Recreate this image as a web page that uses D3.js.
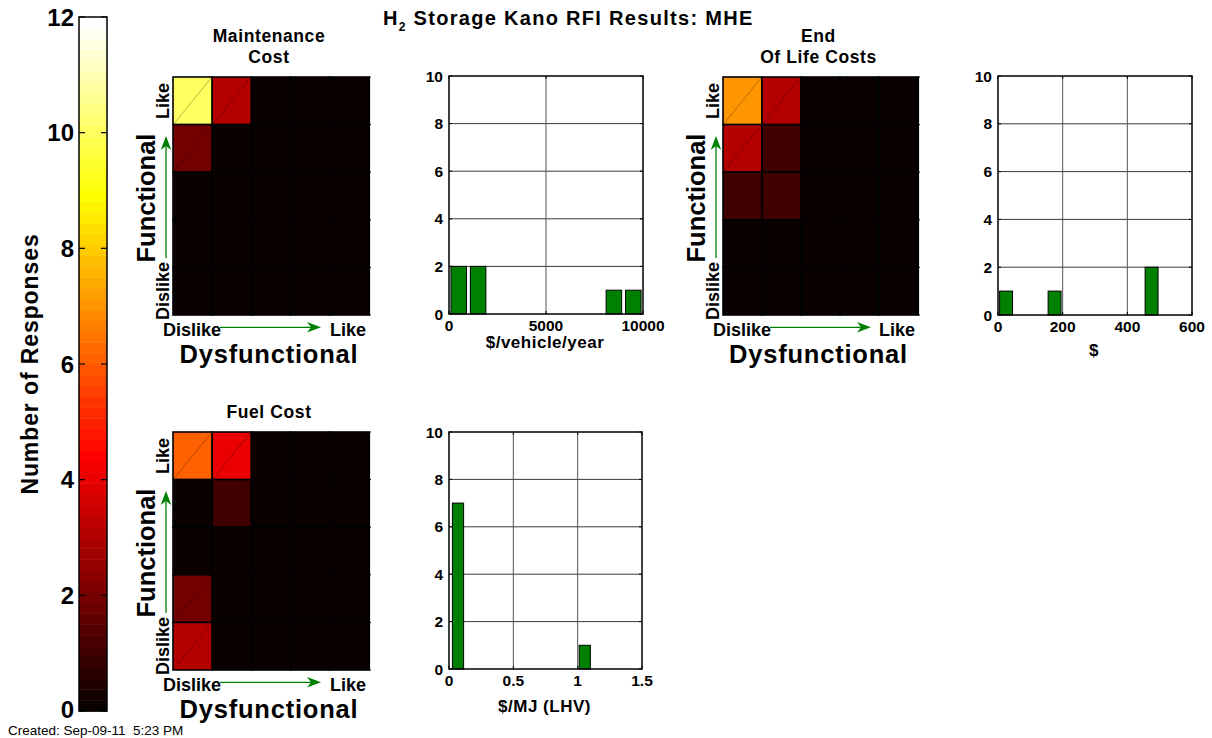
<!DOCTYPE html>
<html><head><meta charset="utf-8">
<script src="https://cdn.jsdelivr.net/npm/d3@7"></script>
<style>
body{margin:0;background:#fff;}
svg text{font-family:"Liberation Sans",Arial,Helvetica,sans-serif;font-weight:bold;fill:#000;}
</style></head><body>
<svg id="c" width="1212" height="738"></svg>
<script>
// ---------------- data ----------------
const colorbarTicks = [0, 2, 4, 6, 8, 10, 12];
const colorMax = 12;

// Kano grids: rows top (Functional Like) -> bottom (Dislike); cols left (Dysfunctional Dislike) -> right (Like)
const maintenanceGrid = [
  [10, 3, 0, 0, 0],
  [2, 0, 0, 0, 0],
  [0, 0, 0, 0, 0],
  [0, 0, 0, 0, 0],
  [0, 0, 0, 0, 0]
];
const endOfLifeGrid = [
  [7, 3, 0, 0, 0],
  [3, 1, 0, 0, 0],
  [1, 1, 0, 0, 0],
  [0, 0, 0, 0, 0],
  [0, 0, 0, 0, 0]
];
const fuelGrid = [
  [6, 4, 0, 0, 0],
  [0, 1, 0, 0, 0],
  [0, 0, 0, 0, 0],
  [2, 0, 0, 0, 0],
  [3, 0, 0, 0, 0]
];

// Histograms
const maintBinCenters = [500, 1500, 2500, 3500, 4500, 5500, 6500, 7500, 8500, 9500];
const maintCounts     = [2, 2, 0, 0, 0, 0, 0, 0, 1, 1];
const maintXTicks = [0, 5000, 10000];

const eolBinCenters = [25, 75, 125, 175, 225, 275, 325, 375, 425, 475];
const eolCounts     = [1, 0, 0, 1, 0, 0, 0, 0, 0, 2];
const eolXTicks = [0, 200, 400, 600];

const fuelBinCenters = [0.070, 0.179, 0.289, 0.398, 0.508, 0.617, 0.727, 0.836, 0.946, 1.055];
const fuelCounts     = [7, 0, 0, 0, 0, 0, 0, 0, 0, 1];
const fuelXTicks = [0, 0.5, 1, 1.5];

const histYTicks = [0, 2, 4, 6, 8, 10];

// ---------------- helpers ----------------
const svg = d3.select("#c");

// MATLAB hot(64)
function hotColor(idx) { // idx 0..63
  const m = 64, n = 24;
  const k = idx + 1;
  const r = Math.min(1, k / n);
  const g = k <= n ? 0 : Math.min(1, (k - n) / n);
  const b = k <= 2 * n ? 0 : (k - 2 * n) / (m - 2 * n);
  return d3.rgb(Math.round(r * 255), Math.round(g * 255), Math.round(b * 255)).toString();
}
function valueColor(v) {
  let idx = Math.floor(v / colorMax * 64);
  idx = Math.max(0, Math.min(63, idx));
  return hotColor(idx);
}

// ---------------- colorbar ----------------
const cb = {x0: 79, x1: 107, y0: 17, y1: 711};
const cbY = d3.scaleLinear().domain([0, colorMax]).range([cb.y1, cb.y0]);
const bands = d3.range(64);
svg.append("g").selectAll("rect").data(bands).join("rect")
  .attr("x", cb.x0).attr("width", cb.x1 - cb.x0)
  .attr("y", d => cbY((d + 1) * colorMax / 64))
  .attr("height", d => cbY(d * colorMax / 64) - cbY((d + 1) * colorMax / 64) + 0.5)
  .attr("fill", d => hotColor(d));
svg.append("rect").attr("x", cb.x0).attr("y", cb.y0).attr("width", cb.x1 - cb.x0).attr("height", cb.y1 - cb.y0)
  .attr("fill", "none").attr("stroke", "#000").attr("stroke-width", 1.5);
const cbTickG = svg.append("g");
colorbarTicks.forEach(t => {
  const y = cbY(t);
  cbTickG.append("line").attr("x1", cb.x0).attr("x2", cb.x0 + 6).attr("y1", y).attr("y2", y).attr("stroke", "#000").attr("stroke-width", 1.2);
  cbTickG.append("line").attr("x1", cb.x1 - 6).attr("x2", cb.x1).attr("y1", y).attr("y2", y).attr("stroke", "#000").attr("stroke-width", 1.2);
  cbTickG.append("text").attr("x", 74).attr("y", t === 0 ? y + 7 : y + 8.5).attr("text-anchor", "end")
    .style("font-size", "24px").text(t);
});
svg.append("text").attr("transform", "translate(38,364) rotate(-90)").attr("text-anchor", "middle")
  .style("font-size", "23px").style("letter-spacing", "0.9px").text("Number of Responses");

// ---------------- title ----------------
const title = svg.append("text").attr("x", 383).attr("y", 25).style("font-size", "20px").style("letter-spacing", "1.3px");
title.append("tspan").text("H");
title.append("tspan").attr("dy", 6).style("font-size", "12px").text("2");
title.append("tspan").attr("dy", -6).text(" Storage Kano RFI Results: MHE");

svg.append("text").attr("x", 8).attr("y", 734.5).style("font-weight", "normal").style("font-size", "13.5px")
  .attr("xml:space", "preserve").text("Created: Sep-09-11  5:23 PM");

// ---------------- Kano heatmap ----------------
function drawKano(box, grid, titleLines, titleBaseline) {
  const g = svg.append("g");
  const cols = d3.range(5), rows = d3.range(5);
  const xs = d3.scaleBand().domain(cols).range([box.x0, box.x1]);
  const ys = d3.scaleBand().domain(rows).range([box.y0, box.y1]);
  const cells = [];
  rows.forEach(r => cols.forEach(c => cells.push({r, c, v: grid[r][c]})));
  g.selectAll("rect.cell").data(cells).join("rect")
    .attr("x", d => xs(d.c)).attr("y", d => ys(d.r))
    .attr("width", xs.bandwidth()).attr("height", ys.bandwidth())
    .attr("fill", d => valueColor(d.v)).attr("stroke", "#000").attr("stroke-width", 1.6);
  g.selectAll("line.diag").data(cells).join("line")
    .attr("x1", d => xs(d.c) + 1).attr("y1", d => ys(d.r) + ys.bandwidth() - 1)
    .attr("x2", d => xs(d.c) + xs.bandwidth() - 1).attr("y2", d => ys(d.r) + 1)
    .attr("stroke", "#000").attr("stroke-opacity", d => d.v > 0 ? 0.35 : 0.08).attr("stroke-width", 0.8);
  // right border ticks
  g.append("line").attr("x1", box.x1 + 0.5).attr("x2", box.x1 + 0.5).attr("y1", box.y0).attr("y2", box.y1)
    .attr("stroke", "#000").attr("stroke-width", 1.2);
  rows.concat([5]).forEach(r => {
    const y = r < 5 ? ys(r) : box.y1;
    g.append("line").attr("x1", box.x1).attr("x2", box.x1 + 2).attr("y1", y).attr("y2", y).attr("stroke", "#000");
  });
  // titles
  titleLines.forEach((t, i) => {
    g.append("text").attr("x", (box.x0 + box.x1) / 2 - 2).attr("y", titleBaseline + i * 21.6)
      .attr("text-anchor", "middle").style("font-size", "17.5px").style("letter-spacing", "0.6px").text(t);
  });
  // axis words
  const bx = box.x0, by = box.y1;
  g.append("text").attr("x", bx - 10).attr("y", by + 20.5).style("font-size", "18px").text("Dislike");
  g.append("text").attr("x", box.x1 - 3).attr("y", by + 20.5).attr("text-anchor", "end").style("font-size", "18px").text("Like");
  g.append("text").attr("transform", `translate(${bx - 4},${box.y0 + 24}) rotate(-90)`).attr("text-anchor", "middle")
    .style("font-size", "18px").text("Like");
  g.append("text").attr("transform", `translate(${bx - 4},${box.y1 + 5}) rotate(-90)`).attr("text-anchor", "start")
    .style("font-size", "18px").text("Dislike");
  g.append("text").attr("transform", `translate(${bx - 18},${box.y0 + 121}) rotate(-90)`).attr("text-anchor", "middle")
    .style("font-size", "25.5px").text("Functional");
  g.append("text").attr("x", (box.x0 + box.x1) / 2 - 2).attr("y", by + 48)
    .attr("text-anchor", "middle").style("font-size", "25.5px").style("letter-spacing", "0.8px").text("Dysfunctional");
  // green arrows
  const green = "#008000";
  g.append("line").attr("x1", bx + 47).attr("x2", bx + 140).attr("y1", by + 12.3).attr("y2", by + 12.3)
    .attr("stroke", green).attr("stroke-width", 1.3);
  g.append("path").attr("d", `M${bx + 148},${by + 12.3} L${bx + 134},${by + 7} L${bx + 138},${by + 12.3} L${bx + 134},${by + 17.6} Z`)
    .attr("fill", green);
  g.append("line").attr("x1", bx - 7).attr("x2", bx - 7).attr("y1", box.y0 + 181).attr("y2", box.y0 + 68)
    .attr("stroke", green).attr("stroke-width", 1.3);
  g.append("path").attr("d", `M${bx - 7},${box.y0 + 59} L${bx - 12.3},${box.y0 + 73} L${bx - 7},${box.y0 + 69} L${bx - 1.7},${box.y0 + 73} Z`)
    .attr("fill", green);
}

// ---------------- histogram ----------------
function drawHist(box, centers, counts, xTicks, xLabel, xLabelBaseline, xFmt) {
  const g = svg.append("g");
  const x = d3.scaleLinear().domain([xTicks[0], xTicks[xTicks.length - 1]]).range([box.x0, box.x1]);
  const y = d3.scaleLinear().domain([0, 10]).range([box.y1, box.y0]);
  g.append("rect").attr("x", box.x0).attr("y", box.y0).attr("width", box.x1 - box.x0).attr("height", box.y1 - box.y0).attr("fill", "#fff");
  // grid
  g.selectAll("line.hg").data(histYTicks.slice(1, -1)).join("line")
    .attr("x1", box.x0).attr("x2", box.x1).attr("y1", d => y(d)).attr("y2", d => y(d))
    .attr("stroke", "#3a3a3a").attr("stroke-width", 1);
  g.selectAll("line.vg").data(xTicks.slice(1, -1)).join("line")
    .attr("x1", d => x(d)).attr("x2", d => x(d)).attr("y1", box.y0).attr("y2", box.y1)
    .attr("stroke", "#555").attr("stroke-width", 1);
  // bars
  const bw = (centers[1] - centers[0]) * 0.8;
  const bars = centers.map((c, i) => ({c, n: counts[i]})).filter(d => d.n > 0);
  g.selectAll("rect.bar").data(bars).join("rect")
    .attr("x", d => x(d.c - bw / 2)).attr("width", d => x(d.c + bw / 2) - x(d.c - bw / 2))
    .attr("y", d => y(d.n)).attr("height", d => y(0) - y(d.n))
    .attr("fill", "#008000").attr("stroke", "#000").attr("stroke-width", 1);
  // ticks (inward on all sides)
  histYTicks.forEach(t => {
    g.append("line").attr("x1", box.x0).attr("x2", box.x0 + 3).attr("y1", y(t)).attr("y2", y(t)).attr("stroke", "#000");
    g.append("line").attr("x1", box.x1 - 3).attr("x2", box.x1).attr("y1", y(t)).attr("y2", y(t)).attr("stroke", "#000");
  });
  xTicks.forEach(t => {
    g.append("line").attr("x1", x(t)).attr("x2", x(t)).attr("y1", box.y1).attr("y2", box.y1 - 3).attr("stroke", "#000");
    g.append("line").attr("x1", x(t)).attr("x2", x(t)).attr("y1", box.y0).attr("y2", box.y0 + 3).attr("stroke", "#000");
  });
  g.append("rect").attr("x", box.x0).attr("y", box.y0).attr("width", box.x1 - box.x0).attr("height", box.y1 - box.y0)
    .attr("fill", "none").attr("stroke", "#000").attr("stroke-width", 1.5);
  // tick labels
  g.selectAll("text.yt").data(histYTicks).join("text")
    .attr("x", box.x0 - 6).attr("y", d => y(d) + 5.5).attr("text-anchor", "end").style("font-size", "15.5px").text(d => d);
  g.selectAll("text.xt").data(xTicks).join("text")
    .attr("x", d => x(d)).attr("y", box.y1 + 17).attr("text-anchor", "middle").style("font-size", "15.5px").text(d => xFmt(d));
  g.append("text").attr("x", (box.x0 + box.x1) / 2 - 1).attr("y", xLabelBaseline).attr("text-anchor", "middle")
    .style("font-size", "17px").style("letter-spacing", "0.5px").text(xLabel);
}

drawKano({x0: 173, x1: 369, y0: 77, y1: 315}, maintenanceGrid, ["Maintenance", "Cost"], 41.7);
drawKano({x0: 723, x1: 918, y0: 77, y1: 315}, endOfLifeGrid, ["End", "Of Life Costs"], 41.7);
drawKano({x0: 173, x1: 369, y0: 432, y1: 670}, fuelGrid, ["Fuel Cost"], 417.7);

drawHist({x0: 449, x1: 643, y0: 76, y1: 314}, maintBinCenters, maintCounts, maintXTicks, "$/vehicle/year", 348, d => d);
drawHist({x0: 998, x1: 1192, y0: 76, y1: 315}, eolBinCenters, eolCounts, eolXTicks, "$", 356, d => d);
drawHist({x0: 449, x1: 642, y0: 432, y1: 669}, fuelBinCenters, fuelCounts, fuelXTicks, "$/MJ (LHV)", 712, d => d);
</script>
</body></html>
